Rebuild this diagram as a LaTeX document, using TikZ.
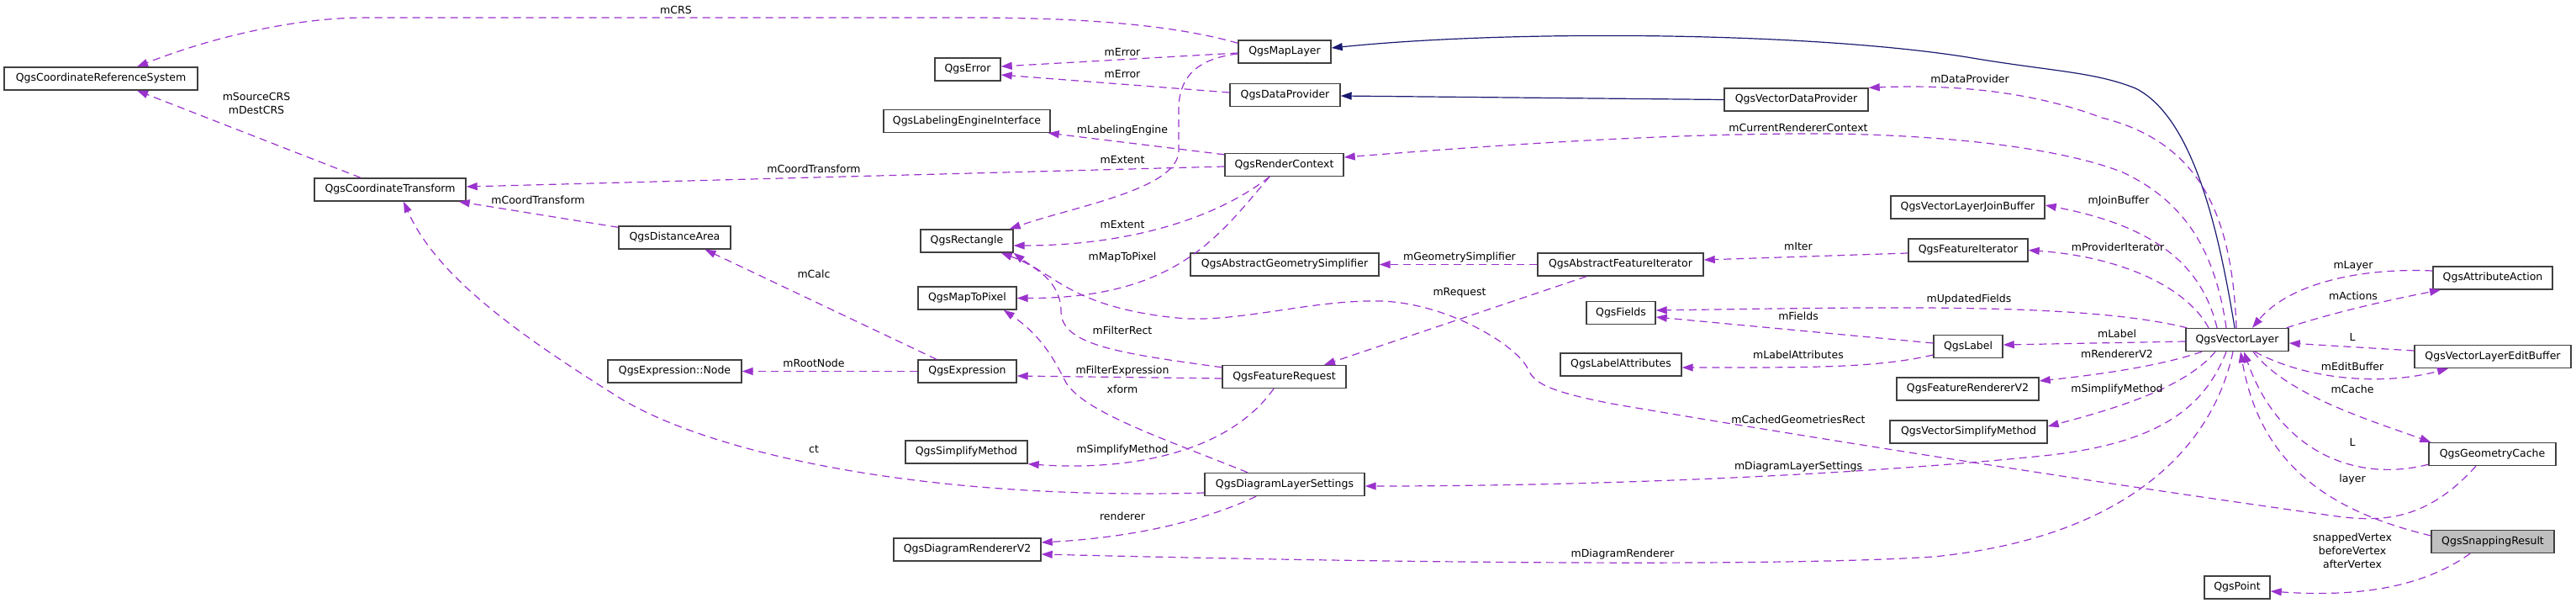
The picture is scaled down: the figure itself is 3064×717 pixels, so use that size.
\documentclass[tikz,border=0pt]{standalone}
\usepackage{fontspec}
\setmainfont{DejaVu Sans}
\usetikzlibrary{arrows.meta}
\definecolor{useC}{HTML}{9A32CD}
\definecolor{inhC}{HTML}{191970}
\definecolor{boxC}{HTML}{404040}
\definecolor{hiC}{HTML}{BFBFBF}
\newcommand{\lbfont}{\fontsize{12.5}{16}\selectfont}
\tikzset{
  cls/.style={draw=boxC, line width=1.4pt, fill=white, minimum height=27pt, inner sep=0pt, font=\lbfont},
  usearrow/.style={draw=useC, line width=1.2pt, dash pattern=on 9pt off 6pt, -{Triangle[length=13pt,width=9pt]}},
  inharrow/.style={draw=inhC, line width=1.2pt, -{Triangle[length=13pt,width=9pt]}},
  lab/.style={font=\lbfont, inner sep=0pt, text height=9.5pt, text depth=2.5pt, align=center}
}
\begin{document}
\begin{tikzpicture}[x=1pt,y=-1pt]
\useasboundingbox (0,0) rectangle (3064,717);
% ---- classes ----
\node[cls, minimum width=230pt] (crs) at (120,93.5) {QgsCoordinateReferenceSystem};
\node[cls, minimum width=110pt] (ml) at (1528,61.5) {QgsMapLayer};
\node[cls, minimum width=78pt] (err) at (1151,82.5) {QgsError};
\node[cls, minimum width=131pt] (dp) at (1528.5,113) {QgsDataProvider};
\node[cls, minimum width=171pt] (vdp) at (2136.5,118.5) {QgsVectorDataProvider};
\node[cls, minimum width=198pt] (lei) at (1150,144) {QgsLabelingEngineInterface};
\node[cls, minimum width=141pt] (rc) at (1527.5,196) {QgsRenderContext};
\node[cls, minimum width=180pt] (ct) at (464,225.5) {QgsCoordinateTransform};
\node[cls, minimum width=133pt] (da) at (802.5,282.5) {QgsDistanceArea};
\node[cls, minimum width=110pt] (rect) at (1150,286.5) {QgsRectangle};
\node[cls, minimum width=117pt] (m2p) at (1150.5,354.5) {QgsMapToPixel};
\node[cls, minimum width=224pt] (ags) at (1528,314.5) {QgsAbstractGeometrySimplifier};
\node[cls, minimum width=197pt] (afi) at (1927.5,314.5) {QgsAbstractFeatureIterator};
\node[cls, minimum width=183pt] (jb) at (2340.5,246.5) {QgsVectorLayerJoinBuffer};
\node[cls, minimum width=142pt] (fi) at (2341,297.5) {QgsFeatureIterator};
\node[cls, minimum width=142pt] (aa) at (2965,330.5) {QgsAttributeAction};
\node[cls, minimum width=82pt] (fields) at (1928,372) {QgsFields};
\node[cls, minimum width=159pt] (enode) at (802.5,441.5) {QgsExpression::Node};
\node[cls, minimum width=117pt] (expr) at (1150.5,441.5) {QgsExpression};
\node[cls, minimum width=147pt] (fr) at (1527.5,448) {QgsFeatureRequest};
\node[cls, minimum width=82pt] (lbl) at (2341,412) {QgsLabel};
\node[cls, minimum width=144pt] (la) at (1928,433.5) {QgsLabelAttributes};
\node[cls, minimum width=122pt] (vl) at (2661,404) {QgsVectorLayer};
\node[cls, minimum width=186pt] (eb) at (2965,424) {QgsVectorLayerEditBuffer};
\node[cls, minimum width=169pt] (frv) at (2340.5,462.5) {QgsFeatureRendererV2};
\node[cls, minimum width=187pt] (vsm) at (2341.5,513.5) {QgsVectorSimplifyMethod};
\node[cls, minimum width=145pt] (sm) at (1149.5,537.5) {QgsSimplifyMethod};
\node[cls, minimum width=151pt] (gc) at (2964.5,540) {QgsGeometryCache};
\node[cls, minimum width=190pt] (dls) at (1528,576) {QgsDiagramLayerSettings};
\node[cls, minimum width=146pt, fill=hiC] (sr) at (2965,644) {QgsSnappingResult};
\node[cls, minimum width=175pt] (drv) at (1150.5,653.5) {QgsDiagramRendererV2};
\node[cls, minimum width=78pt] (pt) at (2661,698.5) {QgsPoint};

% ---- inheritance ----
\draw[inharrow] (vdp.west) -- ([yshift=-1pt]dp.east);
\draw[inharrow] ([xshift=-3pt]vl.north) .. controls (2640,280) and (2610,140) .. (2540,105)
   .. controls (2490,85) and (2440,85) .. (2340,68)
   .. controls (2150,38) and (1800,35) .. ([yshift=4.5pt]ml.east);

% ---- usage ----
\draw[usearrow] ([yshift=-4pt]ml.north west) .. controls (1380,25) and (1250,21) .. (1150,21) -- (434,21)
   .. controls (350,21) and (250,45) .. ([xshift=43pt]crs.south |- crs.north);
\draw[usearrow] ([yshift=-1.5pt]ml.west) -- ([yshift=3.5pt]err.east);
\draw[usearrow] ([yshift=3pt]dp.west) -- ([yshift=-6.5pt]err.east);
\draw[usearrow] ([yshift=-2.5pt]ml.west) .. controls (1420,70) and (1402,95) .. (1402,130) -- (1402,180)
   .. controls (1400,225) and (1280,245) .. ([xshift=-5pt]rect.north east);
\draw[usearrow] ([yshift=-2pt]rc.north west) -- ([xshift=-3pt]lei.south east);
\draw[usearrow] ([yshift=-2pt]rc.west) -- ([yshift=3.5pt]ct.east);
\draw[usearrow] ([xshift=-17.5pt]rc.south) .. controls (1440,265) and (1330,292) .. ([yshift=-5.5pt]rect.east);
\draw[usearrow] ([xshift=-17.5pt]rc.south) .. controls (1450,280) and (1400,355) .. (m2p.east);
\draw[usearrow] ([yshift=-2pt]da.north west) -- ([xshift=-9pt]ct.south east);
\draw[usearrow] ([xshift=-35pt]ct.north) -- ([xshift=43pt]crs.south);
\draw[usearrow] ([yshift=-10pt]dls.west) .. controls (1100,595) and (850,540) .. (740,475)
   .. controls (620,400) and (520,330) .. ([xshift=16pt]ct.south);
\draw[usearrow] ([xshift=-36.5pt]expr.north) -- ([xshift=36pt]da.south);
\draw[usearrow] (expr.west) -- (enode.east);
\draw[usearrow] ([yshift=-3pt]fr.north west) .. controls (1330,420) and (1262,410) .. (1262,370)
   .. controls (1262,335) and (1230,315) .. ([xshift=-15pt]rect.south east);
\draw[usearrow] ([xshift=-19.5pt]gc.south) .. controls (2890,615) and (2840,622) .. (2780,614)
   .. controls (2500,575) and (2150,520) .. (1917,480)
   .. controls (1840,465) and (1825,455) .. (1818,440)
   .. controls (1805,410) and (1720,360) .. (1642,358)
   .. controls (1560,356) and (1470,385) .. (1400,378)
   .. controls (1320,370) and (1280,350) .. (1250,330)
   .. controls (1230,318) and (1215,308) .. (rect.south east);
\draw[usearrow] ([yshift=-2pt]fr.west) -- ([yshift=-5.5pt]expr.east);
\draw[usearrow] ([xshift=-44pt]dls.north) .. controls (1380,520) and (1290,490) .. (1268,455)
   .. controls (1255,430) and (1240,400) .. ([xshift=-16pt]m2p.south east);
\draw[usearrow] ([xshift=-12.5pt]fr.south) .. controls (1460,540) and (1340,560) .. (sm.south east);
\draw[usearrow] ([xshift=-34pt]dls.south) .. controls (1420,625) and (1330,640) .. ([yshift=8.5pt]drv.east);
\draw[usearrow] (afi.west) -- (ags.east);
\draw[usearrow] ([xshift=-40.5pt]afi.south) -- ([xshift=47.5pt]fr.north);
\draw[usearrow] ([yshift=-3.5pt]fi.west) -- ([yshift=5.5pt]afi.east);
\draw[usearrow] ([xshift=-1pt]vl.north) .. controls (2655,260) and (2620,170) .. (2500,140)
   .. controls (2420,110) and (2330,100) .. (vdp.north east);
\draw[usearrow] ([xshift=-13pt]vl.north) .. controls (2635,300) and (2600,240) .. (2525,205)
   .. controls (2450,175) and (2300,158) .. (2139,159)
   .. controls (1950,160) and (1750,175) .. ([yshift=9pt]rc.east);
\draw[usearrow] ([xshift=-24pt]vl.north) .. controls (2620,320) and (2570,270) .. ([yshift=2.5pt]jb.east);
\draw[usearrow] ([xshift=-34pt]vl.north) .. controls (2600,340) and (2520,305) .. (fi.east);
\draw[usearrow] ([xshift=2pt]vl.north west) .. controls (2480,360) and (2250,365) .. ([yshift=3pt]fields.east);
\draw[usearrow] ([yshift=4pt]lbl.west) -- ([yshift=-5pt]fields.east);
\draw[usearrow] ([yshift=-10pt]lbl.west) .. controls (2230,438) and (2150,437) .. ([yshift=-3.5pt]la.east);
\draw[usearrow] ([yshift=-2pt]vl.west) -- ([yshift=2pt]lbl.east);
\draw[usearrow] ([xshift=-42pt]vl.south) .. controls (2570,435) and (2500,445) .. ([yshift=9.5pt]frv.east);
\draw[usearrow] ([xshift=-26pt]vl.south) .. controls (2600,460) and (2520,485) .. ([yshift=6.5pt]vsm.east);
\draw[usearrow] ([xshift=-13pt]vl.south) .. controls (2620,490) and (2560,530) .. (2420,543)
   .. controls (2200,565) and (1900,578) .. ([yshift=-2pt]dls.east);
\draw[usearrow] ([xshift=-5pt]vl.south) .. controls (2630,540) and (2520,640) .. (2300,662)
   .. controls (2100,675) and (1600,668) .. ([yshift=-5.5pt]drv.east);
\draw[usearrow] ([yshift=8.5pt]aa.west) .. controls (2800,318) and (2720,340) .. ([xshift=18pt]vl.north);
\draw[usearrow] ([xshift=-3pt]vl.north east) .. controls (2780,370) and (2850,355) .. ([xshift=-62pt]aa.south);
\draw[usearrow] ([yshift=7pt]eb.west) -- ([yshift=-4pt]vl.east);
\draw[usearrow] ([xshift=21pt]vl.south) .. controls (2740,450) and (2830,460) .. ([xshift=-53pt]eb.south);
\draw[usearrow] ([xshift=19pt]vl.south) .. controls (2720,470) and (2820,500) .. ([xshift=3pt]gc.north west);
\draw[usearrow] ([yshift=2pt]gc.south west) .. controls (2800,575) and (2710,535) .. ([xshift=8pt]vl.south);
\draw[usearrow] ([yshift=7pt]sr.west) .. controls (2780,610) and (2690,560) .. ([xshift=4pt]vl.south);
\draw[usearrow] ([xshift=-27pt]sr.south) .. controls (2880,700) and (2800,710) .. ([yshift=-4.5pt]pt.east);

% ---- labels ----
\node[lab] (l1) at (804,13) {mCRS};
\node[lab] (l2) at (1335,63) {mError};
\node[lab] (l3) at (1335,89) {mError};
\node[lab] (l4) at (1335,155) {mLabelingEngine};
\node[lab] (l5) at (1335,191) {mExtent};
\node[lab] (l6) at (968,202) {mCoordTransform};
\node[lab] (l7) at (1335,268) {mExtent};
\node[lab] (l8) at (1335,306) {mMapToPixel};
\node[lab] (l9) at (305,132) {mSourceCRS\\mDestCRS};
\node[lab] (l10) at (640,239) {mCoordTransform};
\node[lab] (l11) at (968,327) {mCalc};
\node[lab] (l12) at (968,433) {mRootNode};
\node[lab] (l13) at (1335,394) {mFilterRect};
\node[lab] (l14) at (1335,441) {mFilterExpression};
\node[lab] (l15) at (1335,464) {xform};
\node[lab] (l16) at (968,535) {ct};
\node[lab] (l17) at (1335,535) {mSimplifyMethod};
\node[lab] (l18) at (1335,615) {renderer};
\node[lab] (l19) at (2343,95) {mDataProvider};
\node[lab] (l20) at (2139,153) {mCurrentRendererContext};
\node[lab] (l21) at (1736,306) {mGeometrySimplifier};
\node[lab] (l22) at (2139,294) {mIter};
\node[lab] (l23) at (1736,348) {mRequest};
\node[lab] (l24) at (2342,356) {mUpdatedFields};
\node[lab] (l25) at (2139,377) {mFields};
\node[lab] (l26) at (2139,423) {mLabelAttributes};
\node[lab] (l27) at (2139,500) {mCachedGeometriesRect};
\node[lab] (l28) at (2139,555) {mDiagramLayerSettings};
\node[lab] (l29) at (1930,659) {mDiagramRenderer};
\node[lab] (l30) at (2520,239) {mJoinBuffer};
\node[lab] (l31) at (2519,295) {mProviderIterator};
\node[lab] (l32) at (2799,316) {mLayer};
\node[lab] (l33) at (2799,353) {mActions};
\node[lab] (l34) at (2518,398) {mLabel};
\node[lab] (l35) at (2518,422) {mRendererV2};
\node[lab] (l36) at (2518,463) {mSimplifyMethod};
\node[lab] (l37) at (2798,402) {L};
\node[lab] (l38) at (2798,437) {mEditBuffer};
\node[lab] (l39) at (2798,464) {mCache};
\node[lab] (l40) at (2798,527) {L};
\node[lab] (l41) at (2798,570) {layer};
\node[lab, text height=9.5pt, text depth=2.5pt] (l42) at (2798,672) {snappedVertex\\beforeVertex\\afterVertex};
\end{tikzpicture}
\end{document}
